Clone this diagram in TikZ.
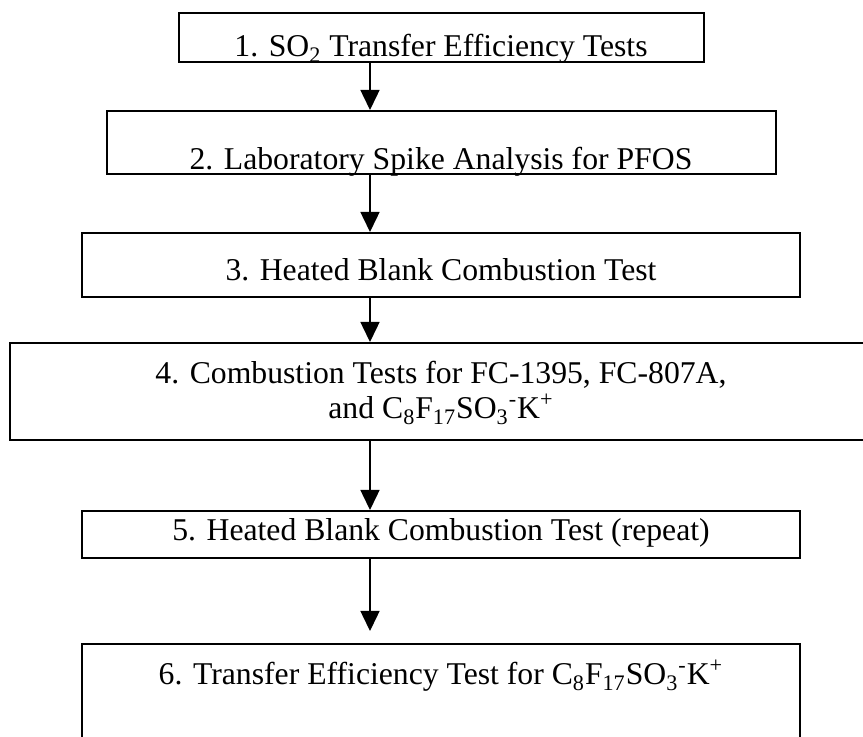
\documentclass[tikz,border=0pt]{standalone}
\usepackage{fontspec}
\setmainfont{Liberation Serif}
\usetikzlibrary{arrows.meta}
\begin{document}
\begin{tikzpicture}[x=0.5pt,y=-0.5pt,
  stepbox/.style={draw=black,line width=1pt,inner sep=0pt,fill=none},
  steptext/.style={inner sep=0pt,font=\fontsize{15.85}{17.5}\selectfont},
  arr/.style={line width=0.75pt,-{Triangle[length=10pt,width=9.5pt]}}]
\useasboundingbox (0,0) rectangle (863,737);
\fill[white] (0,0) rectangle (863,737);
\clip (0,0) rectangle (863,737);
\coordinate (ax) at (370,0);
% boxes
\node[stepbox,minimum width=262.5pt,minimum height=24.5pt] (b1) at (441.5,37.5) {};
\node[stepbox,minimum width=334.5pt,minimum height=31.5pt] (b2) at (441.5,142.5) {};
\node[stepbox,minimum width=359pt,minimum height=32pt] (b3) at (441,265) {};
\node[stepbox,minimum width=431pt,minimum height=48.5pt] (b4) at (441,391.5) {};
\node[stepbox,minimum width=359pt,minimum height=23.5pt] (b5) at (441,534.5) {};
\node[stepbox,minimum width=359pt,minimum height=58pt] (b6) at (441,702) {};
% texts
\node[steptext,anchor=base] (t1) at (441,57) {1. SO\textsubscript{2} Transfer Efficiency Tests};
\node[steptext,anchor=base] (t2) at (441,170) {2. Laboratory Spike Analysis for PFOS};
\node[steptext,anchor=base] (t3) at (441,281) {3. Heated Blank Combustion Test};
\node[steptext,align=center,anchor=center] (t4) at (441,393) {4. Combustion Tests for FC-1395, FC-807A,\\ and C\textsubscript{8}F\textsubscript{17}SO\textsubscript{3}\textsuperscript{-}K\textsuperscript{+}};
\node[steptext,anchor=base] (t5) at (441,541) {5. Heated Blank Combustion Test (repeat)};
\node[steptext,anchor=base] (t6) at (441,685) {6. Transfer Efficiency Test for C\textsubscript{8}F\textsubscript{17}SO\textsubscript{3}\textsuperscript{-}K\textsuperscript{+}};
% connectors
\draw[arr] (b1.south -| ax) -- (b2.north -| ax);
\draw[arr] (b2.south -| ax) -- (b3.north -| ax);
\draw[arr] (b3.south -| ax) -- (b4.north -| ax);
\draw[arr] (b4.south -| ax) -- (b5.north -| ax);
\draw[arr] (b5.south -| ax) -- ([yshift=6pt]b6.north -| ax);
\end{tikzpicture}
\end{document}
